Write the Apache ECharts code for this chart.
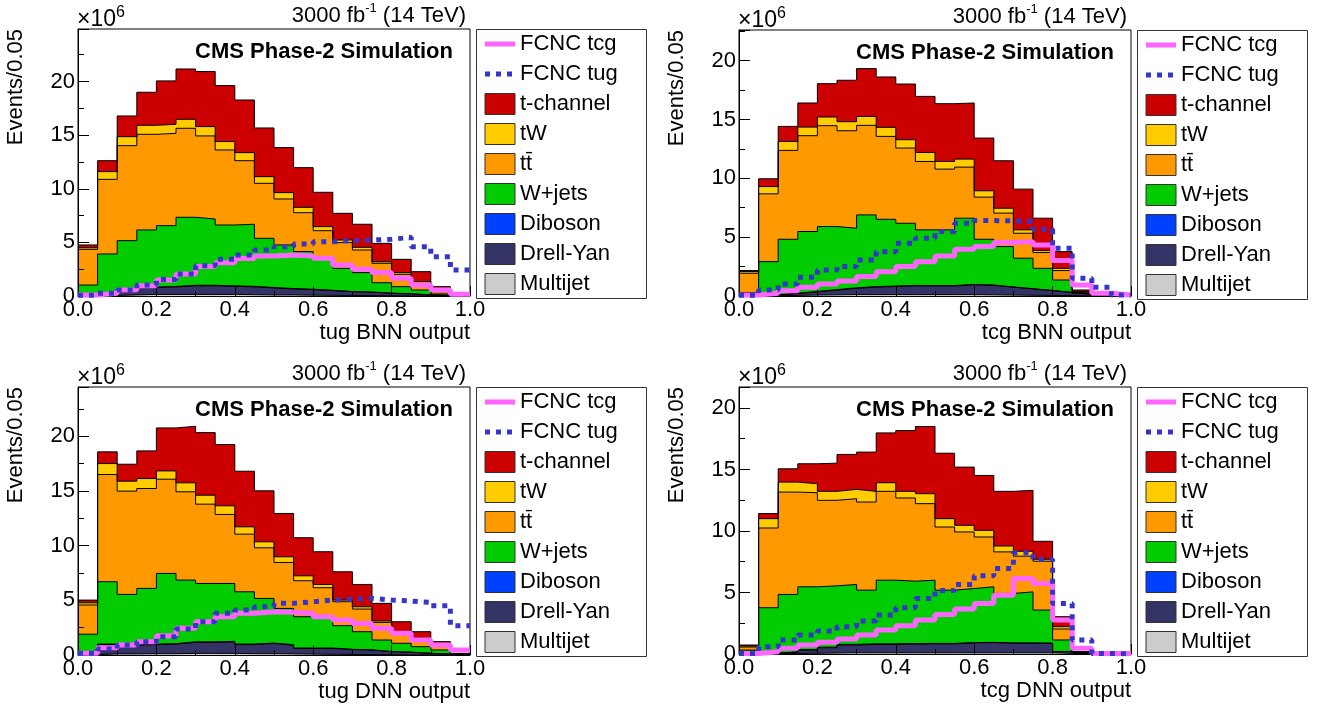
<!DOCTYPE html>
<html><head><meta charset="utf-8">
<script src="https://cdn.jsdelivr.net/npm/echarts@6/dist/echarts.min.js"></script>
<style>html,body{margin:0;padding:0;background:#fff}#c{width:1327px;height:713px}</style>
</head><body><div id="c"></div>
<script>
// ---------------- data (values in units of 10^6 events / 0.05) ----------------
const binEdges = [0,0.05,0.1,0.15,0.2,0.25,0.3,0.35,0.4,0.45,0.5,0.55,0.6,0.65,0.7,0.75,0.8,0.85,0.9,0.95,1.0];
const processNames = ['Multijet','Drell-Yan','Diboson','W+jets','tt\u0304','tW','t-channel'];
const processColors = ['#cccccc','#333366','#0040ff','#00cc00','#ff9900','#ffcc00','#cc0000'];
const signalNames = ['FCNC tcg','FCNC tug'];
const legendOrder = ['FCNC tcg','FCNC tug','t-channel','tW','tt\u0304','W+jets','Diboson','Drell-Yan','Multijet'];
const yTickValues = [0,5,10,15,20];
const xTickValues = [0.0,0.2,0.4,0.6,0.8,1.0];

// panel 1: tug BNN output
const tugBNN_multijet = [0.02,0.05,0.10,0.15,0.15,0.15,0.15,0.15,0.12,0.10,0.10,0.08,0.06,0.05,0.04,0.03,0.02,0.01,0.01,0.00];
const tugBNN_dy       = [0.03,0.10,0.25,0.65,0.70,0.80,0.80,0.75,0.73,0.65,0.55,0.52,0.44,0.35,0.31,0.22,0.18,0.09,0.04,0.01];
const tugBNN_diboson  = [0.01,0.02,0.03,0.04,0.04,0.05,0.05,0.05,0.05,0.04,0.04,0.03,0.03,0.02,0.02,0.02,0.01,0.01,0.00,0.00];
const tugBNN_wjets    = [0.96,3.75,4.78,5.32,5.67,6.34,6.18,5.67,5.79,4.59,4.07,3.51,2.89,2.16,1.81,0.97,0.66,0.45,0.14,0.01];
const tugBNN_ttbar    = [3.33,6.96,8.86,8.92,8.61,8.30,7.75,7.00,5.93,5.13,4.29,3.63,2.67,2.40,2.11,1.81,1.15,0.62,0.21,0.02];
const tugBNN_tW       = [0.15,0.72,0.84,0.84,0.84,0.84,0.87,0.78,0.75,0.62,0.59,0.50,0.38,0.24,0.25,0.15,0.16,0.16,0.10,0.01];
const tugBNN_tchannel = [0.26,1.02,1.93,3.08,4.05,4.69,5.13,5.22,4.91,4.54,4.20,3.70,3.20,2.49,2.15,1.71,1.24,0.93,0.37,0.04];
const tugBNN_tcg      = [0.10,0.25,0.56,0.96,1.49,2.05,2.74,3.11,3.50,3.73,3.82,3.73,3.51,2.89,2.49,2.18,1.65,1.03,0.56,0.16];
const tugBNN_tug      = [0.06,0.25,0.56,1.03,1.55,2.05,2.83,3.42,3.82,4.29,4.60,4.85,5.07,5.16,5.22,5.29,5.47,4.60,3.67,2.43];

// panel 2: tcg BNN output
const tcgBNN_multijet = [0.02,0.03,0.05,0.08,0.10,0.12,0.12,0.12,0.12,0.12,0.12,0.12,0.10,0.08,0.06,0.05,0.04,0.02,0.01,0.00];
const tcgBNN_dy       = [0.03,0.07,0.15,0.27,0.40,0.53,0.63,0.68,0.73,0.73,0.73,0.83,0.80,0.67,0.54,0.40,0.26,0.13,0.02,0.01];
const tcgBNN_diboson  = [0.01,0.02,0.03,0.04,0.04,0.05,0.05,0.05,0.05,0.04,0.04,0.03,0.03,0.02,0.02,0.02,0.01,0.01,0.00,0.00];
const tcgBNN_wjets    = [0.24,2.80,4.59,5.09,5.36,5.06,6.09,5.67,5.28,4.73,4.73,5.63,3.89,3.43,2.59,1.88,1.05,0.07,0.01,0.00];
const tcgBNN_ttbar    = [1.63,5.76,7.55,8.14,8.57,8.28,7.61,7.04,6.39,5.81,5.16,4.34,3.58,2.84,2.12,1.34,0.80,0.05,0.02,0.01];
const tcgBNN_tW       = [0.14,0.62,0.76,0.73,0.74,0.77,0.76,0.77,0.71,0.77,0.65,0.68,0.54,0.42,0.29,0.17,0.19,0.09,0.02,0.00];
const tcgBNN_tchannel = [0.09,0.66,1.28,2.05,2.83,3.52,4.06,4.28,4.73,4.76,4.91,4.77,4.48,4.03,3.46,2.75,1.42,0.14,0.02,0.01];
const tcgBNN_tcg      = [0.09,0.23,0.45,0.74,1.02,1.28,1.65,2.07,2.50,2.92,3.40,3.97,4.20,4.54,4.62,4.34,3.01,0.94,0.23,0.09];
const tcgBNN_tug      = [0.06,0.51,1.02,1.59,2.21,2.50,3.06,3.77,4.48,4.91,5.48,6.18,6.41,6.38,6.33,5.67,4.06,1.50,0.74,0.09];

// panel 3: tug DNN output
const tugDNN_multijet = [0.02,0.10,0.10,0.12,0.12,0.15,0.15,0.15,0.12,0.12,0.10,0.08,0.06,0.05,0.04,0.03,0.02,0.01,0.01,0.00];
const tugDNN_dy       = [0.03,0.87,0.80,0.83,0.88,1.00,1.00,1.05,0.83,0.93,0.80,0.52,0.54,0.45,0.41,0.27,0.23,0.14,0.07,0.02];
const tugDNN_diboson  = [0.01,0.02,0.03,0.04,0.04,0.05,0.05,0.05,0.05,0.04,0.04,0.03,0.03,0.02,0.02,0.02,0.01,0.01,0.00,0.00];
const tugDNN_wjets    = [1.84,5.71,4.61,5.10,6.42,5.65,5.34,5.29,4.78,4.08,3.32,2.87,2.72,2.16,1.66,1.05,0.81,0.60,0.38,0.02];
const tugDNN_ttbar    = [2.67,9.80,9.44,9.13,8.61,8.07,7.25,6.31,5.27,4.63,4.20,3.29,2.80,2.19,2.07,1.61,0.91,0.61,0.45,0.04];
const tugDNN_tW       = [0.20,1.00,0.91,0.91,0.76,0.82,0.82,0.79,0.67,0.55,0.52,0.45,0.30,0.15,0.21,0.13,0.15,0.15,0.06,0.02];
const tugDNN_tchannel = [0.25,1.07,1.55,2.53,3.93,5.17,5.72,5.60,5.08,4.66,3.96,3.48,2.99,2.59,2.04,1.61,0.91,0.61,0.25,0.05];
const tugDNN_tcg      = [0.15,0.67,0.91,1.22,1.77,2.44,3.04,3.50,3.81,3.96,3.90,3.81,3.50,3.20,2.89,2.44,1.98,1.37,0.91,0.46];
const tugDNN_tug      = [0.15,0.55,0.91,1.22,1.67,2.37,3.04,3.81,4.11,4.41,4.72,4.87,5.02,5.11,5.17,5.02,4.93,4.81,4.50,2.68];

// panel 4: tcg DNN output
const tcgDNN_multijet = [0.02,0.02,0.04,0.06,0.08,0.10,0.10,0.10,0.10,0.10,0.10,0.10,0.10,0.10,0.10,0.10,0.05,0.01,0.00,0.00];
const tcgDNN_dy       = [0.03,0.03,0.11,0.26,0.43,0.63,0.68,0.68,0.70,0.72,0.72,0.80,0.82,0.78,0.78,0.76,0.14,0.04,0.01,0.00];
const tcgDNN_diboson  = [0.01,0.02,0.03,0.04,0.04,0.05,0.05,0.05,0.05,0.04,0.04,0.03,0.03,0.02,0.02,0.02,0.01,0.01,0.00,0.00];
const tcgDNN_wjets    = [0.26,3.69,4.66,5.10,4.99,4.87,4.36,5.17,5.07,5.14,4.33,4.39,4.51,4.02,4.15,2.69,0.94,0.02,0.00,0.00];
const tcgDNN_ttbar    = [0.25,6.48,8.32,7.65,6.95,6.97,7.16,7.22,6.76,6.22,5.13,4.60,4.05,3.38,2.90,3.97,0.89,0.04,0.01,0.00];
const tcgDNN_tW       = [0.08,0.76,0.81,0.73,0.73,0.76,0.87,0.70,0.54,0.81,0.68,0.54,0.54,0.48,0.40,0.16,0.19,0.03,0.00,0.00];
const tcgDNN_tchannel = [0.08,0.41,1.08,1.62,2.29,2.84,3.19,4.05,4.94,5.46,5.32,4.73,4.46,4.44,4.95,1.46,0.81,0.04,0.01,0.01];
const tcgDNN_tcg      = [0.05,0.19,0.46,0.73,0.95,1.22,1.54,1.95,2.30,2.76,3.22,3.65,4.11,4.78,6.14,5.73,2.76,0.46,0.05,0.05];
const tcgDNN_tug      = [0.05,0.59,1.14,1.54,1.86,2.22,2.68,3.16,3.76,4.51,5.16,5.65,6.35,6.95,8.22,7.68,4.11,1.14,0.05,0.00];

// ---------------- layout ----------------
const FONT = '"Liberation Sans", Arial, Helvetica, sans-serif';
const panels = [
  {left:78,  top:29,  width:392, height:267, yMax:24.9, xTitle:'tug BNN output',
   bkg:[tugBNN_multijet,tugBNN_dy,tugBNN_diboson,tugBNN_wjets,tugBNN_ttbar,tugBNN_tW,tugBNN_tchannel], sig:[tugBNN_tcg,tugBNN_tug]},
  {left:739, top:30,  width:392, height:266, yMax:22.6, xTitle:'tcg BNN output',
   bkg:[tcgBNN_multijet,tcgBNN_dy,tcgBNN_diboson,tcgBNN_wjets,tcgBNN_ttbar,tcgBNN_tW,tcgBNN_tchannel], sig:[tcgBNN_tcg,tcgBNN_tug]},
  {left:78,  top:387, width:392, height:268, yMax:24.5, xTitle:'tug DNN output',
   bkg:[tugDNN_multijet,tugDNN_dy,tugDNN_diboson,tugDNN_wjets,tugDNN_ttbar,tugDNN_tW,tugDNN_tchannel], sig:[tugDNN_tcg,tugDNN_tug]},
  {left:739, top:387, width:392, height:267, yMax:21.7, xTitle:'tcg DNN output',
   bkg:[tcgDNN_multijet,tcgDNN_dy,tcgDNN_diboson,tcgDNN_wjets,tcgDNN_ttbar,tcgDNN_tW,tcgDNN_tchannel], sig:[tcgDNN_tcg,tcgDNN_tug]}
];
const signalStyles = [
  {color:'#ff66ff', width:5, type:'solid'},
  {color:'#3535cc', width:5, type:[5,6]}
];

function stepData(vals){
  const d = vals.map((v,i)=>[binEdges[i], v]);
  d.push([binEdges[binEdges.length-1], vals[vals.length-1]]);
  return d;
}
// THStack-like: cumulative sums, drawn from the top layer down
function cumulative(layers){
  const out = []; let run = layers[0].map(()=>0);
  layers.forEach(l=>{ run = run.map((r,i)=>+(r + l[i]).toFixed(4)); out.push(run); });
  return out;
}

const grid=[], xAxis=[], yAxis=[], series=[], legend=[], graphic=[];
panels.forEach((p,k)=>{
  grid.push({left:p.left, top:p.top, width:p.width, height:p.height, show:true,
             borderColor:'#000', borderWidth:1, backgroundColor:'transparent'});
  xAxis.push({gridIndex:k, type:'value', min:0, max:1, interval:0.2, z:3,
    axisLine:{show:true, onZero:false, lineStyle:{color:'#000', width:1}},
    axisTick:{show:true, inside:true, length:10, lineStyle:{color:'#000'}},
    minorTick:{show:true, splitNumber:2, length:5, lineStyle:{color:'#000'}},
    splitLine:{show:false},
    axisLabel:{fontSize:22, color:'#000', fontFamily:FONT, margin:3,
      formatter:v=>{const t=xTickValues.find(q=>Math.abs(q-v)<1e-6); return t===undefined?'':t.toFixed(1);}}});
  yAxis.push({gridIndex:k, type:'value', min:0, max:p.yMax, interval:5, z:3,
    axisLine:{show:true, onZero:false, lineStyle:{color:'#000', width:1}},
    axisTick:{show:true, inside:true, length:11, lineStyle:{color:'#000'}},
    minorTick:{show:true, splitNumber:2, length:6, lineStyle:{color:'#000'}},
    splitLine:{show:false},
    axisLabel:{fontSize:22, color:'#000', fontFamily:FONT, margin:3, showMaxLabel:false,
      formatter:v=>{const t=yTickValues.find(q=>Math.abs(q-v)<1e-6); return t===undefined?'':String(t);}}});
  const cum = cumulative(p.bkg);
  for (let j = cum.length-1; j >= 0; j--) {
    series.push({type:'line', name:processNames[j], xAxisIndex:k, yAxisIndex:k,
      step:'end', symbol:'none', showSymbol:false, silent:true, z:2,
      data:stepData(cum[j]), itemStyle:{color:processColors[j]},
      lineStyle:{color:'#000', width:1}, areaStyle:{color:processColors[j], opacity:1, origin:'start'}});
  }
  p.sig.forEach((vals,j)=>{
    const s = signalStyles[j];
    series.push({type:'line', name:signalNames[j], xAxisIndex:k, yAxisIndex:k,
      step:'end', symbol:'none', showSymbol:false, silent:true, z:4+j,
      data:stepData(vals), itemStyle:{color:s.color},
      lineStyle:{color:s.color, width:s.width, type:s.type, cap:'butt'}});
  });
  const right = p.left + p.width, bottom = p.top + p.height;
  legend.push({orient:'vertical', left:right+12.5, top:p.top+4, itemWidth:30, itemHeight:21, itemGap:8,
    padding:0, selectedMode:false,
    textStyle:{fontSize:22, color:'#000', fontFamily:FONT, lineHeight:22},
    data: legendOrder.map(n=>{
      const si = signalNames.indexOf(n);
      if (si>=0) {
        const s = signalStyles[si];
        return {name:n, itemStyle:{opacity:0}, lineStyle:{color:s.color, width:s.width, type:s.type}};
      }
      const pi = processNames.indexOf(n);
      return {name:n, icon:'rect', itemStyle:{color:processColors[pi], borderColor:'#333', borderWidth:1}};
    })});
  graphic.push({type:'rect', z:1, silent:true, shape:{x:right+6.5, y:p.top+0.5, width:170, height:269},
    style:{fill:'none', stroke:'#333', lineWidth:1}});
  graphic.push({type:'text', x:p.left-1, y:p.top-11, silent:true,
    style:{text:'{a|\u00d710}{b|6}', align:'left', verticalAlign:'middle', textAlign:'left', textVerticalAlign:'middle',
      rich:{a:{fontSize:23, fontFamily:FONT, fill:'#000', verticalAlign:'bottom'},
            b:{fontSize:16, fontFamily:FONT, fill:'#000', verticalAlign:'top', padding:[0,0,10,0]}}}});
  graphic.push({type:'text', x:right-4, y:p.top-15, silent:true,
    style:{text:'{a|3000 fb}{b|-1}{a| (14 TeV)}', align:'right', verticalAlign:'middle', textAlign:'right', textVerticalAlign:'middle',
      rich:{a:{fontSize:22, fontFamily:FONT, fill:'#000', verticalAlign:'bottom'},
            b:{fontSize:13, fontFamily:FONT, fill:'#000', verticalAlign:'top', padding:[0,0,12,0]}}}});
  graphic.push({type:'text', x:right-17, y:p.top+23, silent:true,
    style:{text:'CMS Phase-2 Simulation', fontSize:22, fontWeight:'bold', fontFamily:FONT, fill:'#000',
      align:'right', verticalAlign:'middle', textAlign:'right', textVerticalAlign:'middle'}});
  graphic.push({type:'text', x:right, y:bottom+37, silent:true,
    style:{text:p.xTitle, fontSize:22, fontFamily:FONT, fill:'#000',
      align:'right', verticalAlign:'middle', textAlign:'right', textVerticalAlign:'middle'}});
  graphic.push({type:'text', x:p.left-62, y:p.top, rotation:Math.PI/2, silent:true,
    style:{text:'Events/0.05', fontSize:22, fontFamily:FONT, fill:'#000',
      align:'right', verticalAlign:'middle', textAlign:'right', textVerticalAlign:'middle'}});
});

const chart = echarts.init(document.getElementById('c'), null, {renderer:'canvas'});
chart.setOption({animation:false, backgroundColor:'#fff', textStyle:{fontFamily:FONT},
  grid, xAxis, yAxis, series, legend, graphic});
</script></body></html>
